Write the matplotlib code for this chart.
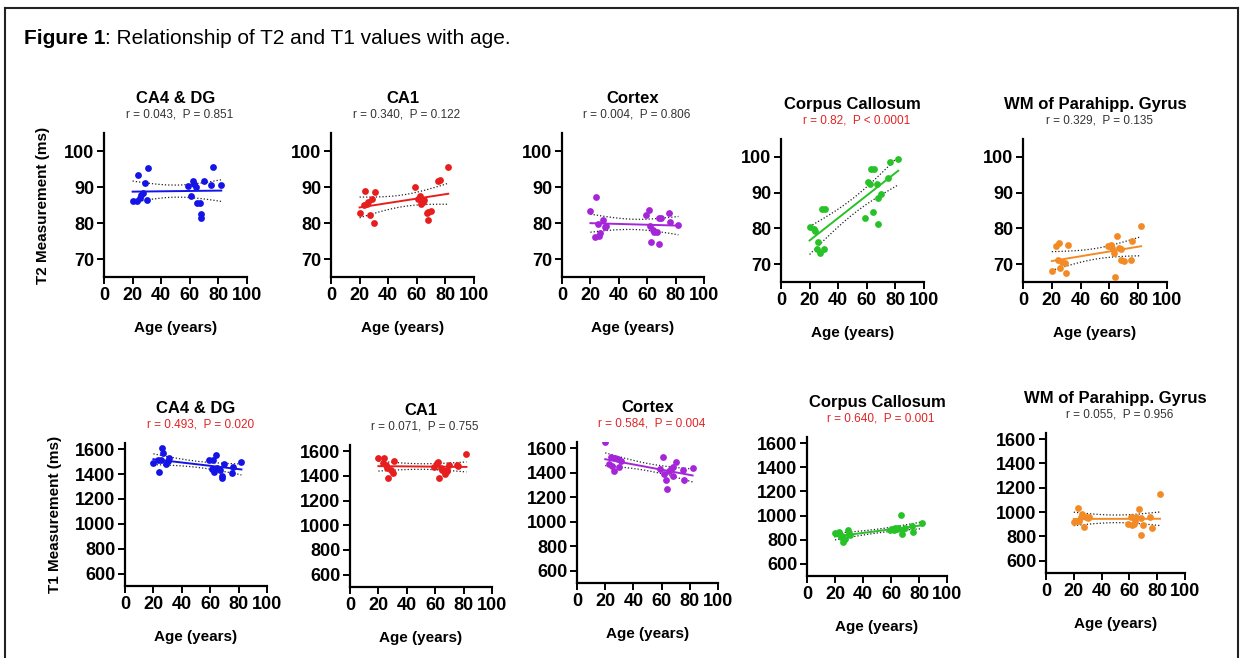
import numpy as np
import matplotlib
matplotlib.use("Agg")
import matplotlib.pyplot as plt
from matplotlib.lines import Line2D

plt.rcParams['font.family'] = ['Liberation Sans', 'DejaVu Sans']

# subject ages (same 22 subjects in every panel)
ages = [20, 23, 24, 25, 26, 27, 29, 30, 31, 59, 61, 62, 63, 64, 65, 67, 68, 68, 70, 75, 76, 82]

# T2 (ms)
t2_ca4 = [86.0, 86.0, 93.3, 87.0, 87.9, 88.4, 91.1, 86.5, 95.3, 90.2, 87.6, 91.6, 90.7, 90.0, 85.5, 85.5, 82.5, 81.4, 91.6, 90.5, 95.6, 90.6]
t2_ca1 = [82.9, 85.1, 89.0, 85.4, 85.8, 82.3, 86.7, 80.0, 88.5, 89.9, 86.8, 87.4, 85.3, 85.8, 86.5, 82.9, 80.7, 83.0, 83.4, 91.6, 91.9, 95.6]
t2_cortex = [83.2, 76.2, 87.1, 79.7, 76.5, 77.2, 80.7, 79.0, 79.3, 82.3, 83.7, 79.3, 74.6, 78.1, 77.6, 77.4, 74.1, 81.5, 81.3, 82.9, 80.4, 79.5]
t2_cc = [80.3, 79.7, 79.2, 74.3, 76.2, 73.1, 85.5, 74.3, 85.5, 82.9, 93.0, 92.3, 96.7, 84.5, 96.7, 92.5, 88.6, 81.1, 89.5, 94.2, 98.6, 99.3]
t2_wm = [68.1, 75.0, 71.2, 75.9, 68.8, 70.5, 70.3, 67.5, 75.4, 75.0, 75.3, 74.5, 73.1, 66.5, 77.8, 74.5, 71.2, 74.1, 71.0, 71.2, 76.4, 80.8]

# T1 (ms)
t1_ca4 = [1486, 1511, 1416, 1511, 1608, 1573, 1478, 1505, 1532, 1514, 1443, 1511, 1416, 1551, 1451, 1430, 1384, 1365, 1484, 1411, 1459, 1497]
t1_ca1 = [1548, 1505, 1545, 1486, 1466, 1385, 1450, 1426, 1518, 1472, 1505, 1513, 1385, 1466, 1450, 1417, 1439, 1450, 1491, 1486, 1480, 1581]
t1_cortex = [1646, 1469, 1526, 1456, 1417, 1518, 1513, 1445, 1491, 1428, 1524, 1387, 1336, 1268, 1417, 1428, 1445, 1369, 1486, 1423, 1341, 1436]
t1_cc = [852, 866, 819, 833, 778, 805, 879, 847, 838, 879, 888, 879, 893, 888, 901, 1003, 847, 880, 893, 915, 868, 942]
t1_wm = [921, 1033, 929, 956, 984, 874, 964, 948, 962, 901, 964, 896, 901, 930, 962, 1025, 811, 948, 896, 962, 868, 1153]

regions = ["CA4 & DG", "CA1", "Cortex", "Corpus Callosum", "WM of Parahipp. Gyrus"]
colors = ["#1414e6", "#e61e1e", "#a526d9", "#27c227", "#f28b25"]
t2_stats = ["r = 0.043,  P = 0.851", "r = 0.340,  P = 0.122", "r = 0.004,  P = 0.806",
            "r = 0.82,  P < 0.0001", "r = 0.329,  P = 0.135"]
t1_stats = ["r = 0.493,  P = 0.020", "r = 0.071,  P = 0.755", "r = 0.584,  P = 0.004",
            "r = 0.640,  P = 0.001", "r = 0.055,  P = 0.956"]
t2_sig = [False, False, False, True, False]
t1_sig = [True, False, True, True, False]

W, H = 1243, 658
fig = plt.figure(figsize=(W / 100, H / 100), dpi=100)

# axes boxes in pixels: left, right, top, bottom
t2_boxes = [(104, 247, 133, 277), (331, 474, 133, 277), (562, 704, 133, 277),
            (781, 924, 139, 282), (1023, 1167, 139, 282)]
t1_boxes = [(125, 267, 443, 586), (350, 492, 445, 587), (577, 718, 442, 583),
            (807, 947, 437, 576), (1046, 1185, 433, 573)]

# centre of the rotated y label, in pixels
ylabel_x = {"T2 Measurement (ms)": 43, "T1 Measurement (ms)": 55}


def add_panel(box, y, color, title, stat, sig, ylim, yticks, ylabel=None):
    l, r, t, b = box
    ax = fig.add_axes([l / W, 1 - b / H, (r - l) / W, (b - t) / H])
    x = np.array(ages, dtype=float)
    y = np.array(y, dtype=float)
    ax.scatter(x, y, s=24, color=color, zorder=3, linewidths=0)

    # linear fit with 95% confidence band
    slope, icpt = np.polyfit(x, y, 1)
    xs = np.linspace(x.min(), x.max(), 100)
    yfit = slope * xs + icpt
    n = len(x)
    resid = y - (slope * x + icpt)
    s = np.sqrt(np.sum(resid ** 2) / (n - 2))
    sxx = np.sum((x - x.mean()) ** 2)
    half = 2.086 * s * np.sqrt(1 / n + (xs - x.mean()) ** 2 / sxx)
    ax.plot(xs, yfit, color=color, lw=1.4, zorder=2)
    ax.plot(xs, yfit + half, color="#222222", lw=0.9, ls=(0, (1, 1.6)), zorder=2)
    ax.plot(xs, yfit - half, color="#222222", lw=0.9, ls=(0, (1, 1.6)), zorder=2)

    ax.set_xlim(0, 100)
    ax.set_ylim(*ylim)
    ax.set_xticks([0, 20, 40, 60, 80, 100])
    ax.set_yticks(yticks)
    for sp in ["top", "right"]:
        ax.spines[sp].set_visible(False)
    for sp in ["left", "bottom"]:
        ax.spines[sp].set_linewidth(1.6)
    ax.tick_params(width=1.4, length=5, labelsize=13, pad=2)
    for lab in ax.get_xticklabels() + ax.get_yticklabels():
        lab.set_fontweight("bold")
    ax.set_xlabel("Age (years)", fontsize=11, fontweight="bold", va="center")
    ax.xaxis.set_label_coords(0.5, -51 / (b - t))
    if ylabel:
        ax.set_ylabel(ylabel, fontsize=11, fontweight="bold", va="center")
        ax.yaxis.set_label_coords((ylabel_x[ylabel] - l) / (r - l), 0.5)

    ax.annotate(title, xy=(0.5, 1), xycoords="axes fraction", xytext=(0, 25),
                textcoords="offset points", ha="center", va="center",
                fontsize=12, fontweight="bold")
    ax.annotate(stat, xy=(0.5, 1), xycoords="axes fraction", xytext=(3, 13),
                textcoords="offset points", ha="center", va="center",
                fontsize=8.5, color="#e02424" if sig else "#333333")
    return ax


t2_data = [t2_ca4, t2_ca1, t2_cortex, t2_cc, t2_wm]
t1_data = [t1_ca4, t1_ca1, t1_cortex, t1_cc, t1_wm]

for i in range(5):
    add_panel(t2_boxes[i], t2_data[i], colors[i], regions[i], t2_stats[i], t2_sig[i],
              (65, 105), [70, 80, 90, 100], "T2 Measurement (ms)" if i == 0 else None)
    add_panel(t1_boxes[i], t1_data[i], colors[i], regions[i], t1_stats[i], t1_sig[i],
              (500, 1650), [600, 800, 1000, 1200, 1400, 1600], "T1 Measurement (ms)" if i == 0 else None)

# frame around the figure
bx0, bx1, by0 = 5 / W, 1238 / W, 1 - 8 / H
for xs_, ys_ in [([bx0, bx1], [by0, by0]), ([bx0, bx0], [0, by0]), ([bx1, bx1], [0, by0])]:
    fig.add_artist(Line2D(xs_, ys_, transform=fig.transFigure, color="#222222", lw=1.5))

# figure caption
renderer = fig.canvas.get_renderer()
t_bold = fig.text(24 / W, 1 - 39 / H, "Figure 1", fontsize=15, fontweight="bold", va="center")
bb = t_bold.get_window_extent(renderer=renderer)
fig.text(bb.x1 / W, 1 - 39 / H, ": Relationship of T2 and T1 values with age.", fontsize=15, va="center")

fig.savefig("out.png", dpi=100)
